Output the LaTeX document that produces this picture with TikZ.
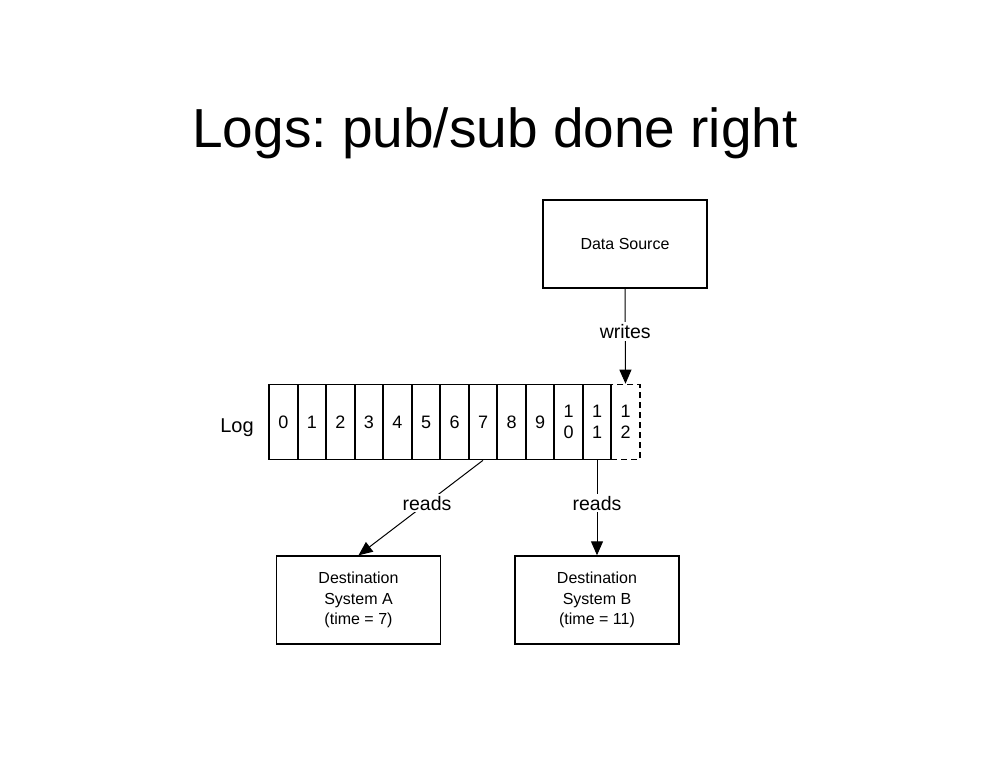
\documentclass[tikz,border=0pt]{standalone}
\usepackage{fontspec}
\setmainfont{Liberation Sans}
\usetikzlibrary{arrows.meta}
\frenchspacing

\begin{document}
\begin{tikzpicture}[x=1pt, y=-1pt,
  cell/.style={draw, line width=1.6pt, minimum width=28.5pt, minimum height=75pt, inner sep=0pt, font=\fontsize{18}{20.5}\selectfont, align=center},
  box/.style={draw, line width=1.4pt, minimum width=164pt, minimum height=88pt, inner sep=0pt, font=\fontsize{16}{20.5}\selectfont, align=center},
  arr/.style={-{Triangle[length=14pt, width=12pt]}, line width=1pt},
  lbl/.style={fill=white, inner sep=2pt, font=\fontsize{19.5}{20}\selectfont}]

\useasboundingbox (0,0) rectangle (990,765);

\node[font=\fontsize{55}{60}\selectfont] (title) at (495,133) {Logs: pub/sub done right};

\node[box] (src) at (625,244) {Data Source};

\node[cell] (c0) at (283.5,422) {0};
\node[cell] (c1) at (312,422) {1};
\node[cell] (c2) at (340.5,422) {2};
\node[cell] (c3) at (369,422) {3};
\node[cell] (c4) at (397.5,422) {4};
\node[cell] (c5) at (426,422) {5};
\node[cell] (c6) at (454.5,422) {6};
\node[cell] (c7) at (483,422) {7};
\node[cell] (c8) at (511.5,422) {8};
\node[cell] (c9) at (540,422) {9};
\node[cell] (c10) at (568.5,422) {1\\0};
\node[cell] (c11) at (597,422) {1\\1};
\node[cell, dash pattern=on 6pt off 4pt] (c12) at (625.5,422) {1\\2};

\node[font=\fontsize{20}{22}\selectfont] (log) at (237,428) {Log};

\node[box] (dstA) at (358.5,600) {Destination\\ System A\\(time = 7)};
\node[box] (dstB) at (597,600) {Destination\\ System B\\(time = 11)};

\draw[arr] (src.south) to node[lbl, pos=0.45] {writes} (c12.north);
\draw[arr] (c7.south) to node[lbl, pos=0.45] {reads} (dstA.north);
\draw[arr] (c11.south) to node[lbl, pos=0.45] {reads} (dstB.north);

\end{tikzpicture}
\end{document}
